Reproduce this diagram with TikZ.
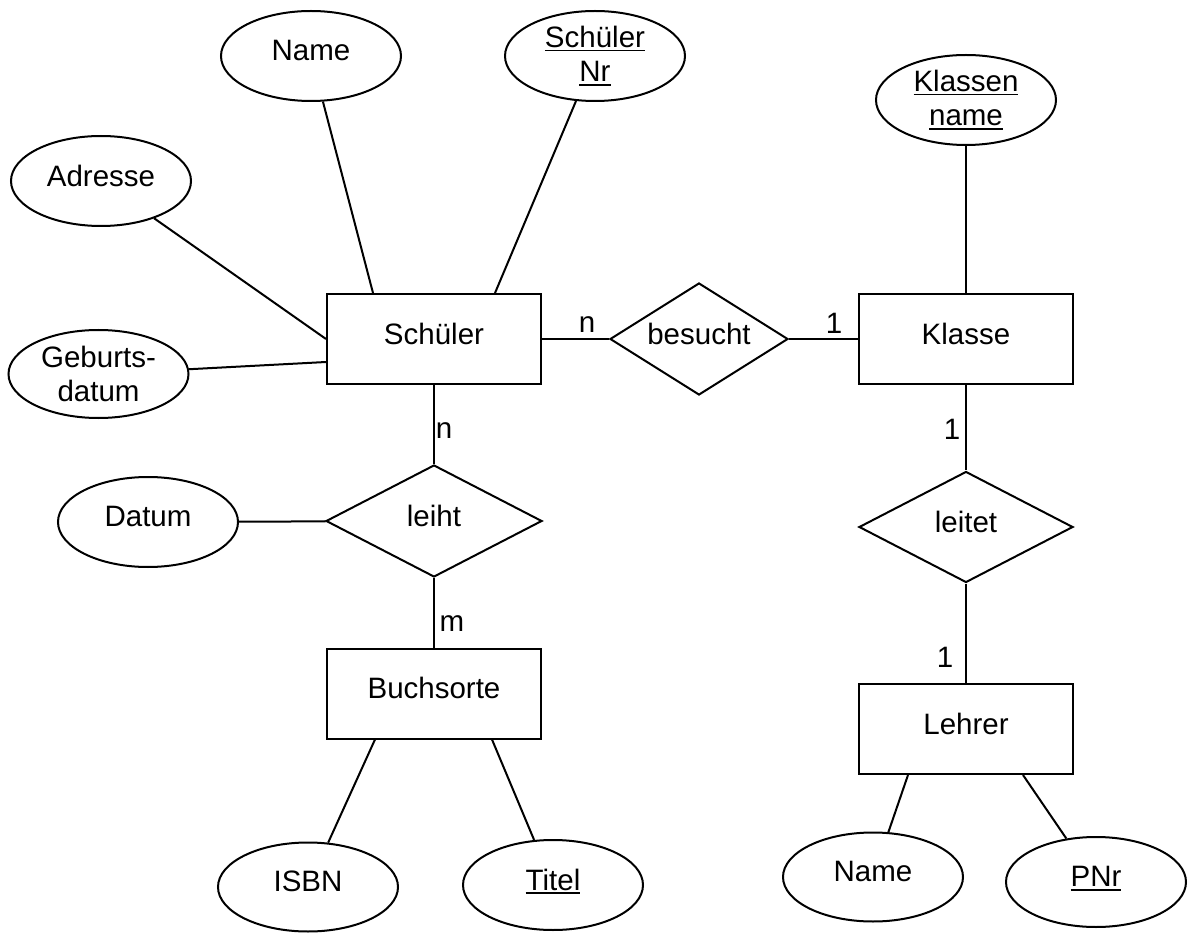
\documentclass[tikz,border=0pt]{standalone}
\usepackage{fontspec}
\setmainfont{Liberation Sans}
\usetikzlibrary{shapes.geometric}
\newsavebox\ulbox
\newcommand\ulin[1]{\sbox\ulbox{#1}\rlap{\rule[-4pt]{\wd\ulbox}{1.8pt}}\usebox\ulbox}
\begin{document}
\begin{tikzpicture}[x=1pt,y=-1pt,
  every node/.style={font=\fontsize{29.5}{34.5}\selectfont, inner sep=0pt},
  shapebase/.style={draw, line width=2pt},
  entity/.style={shapebase, rectangle, minimum width=214pt, minimum height=90pt, text depth=11pt},
  attr/.style={shapebase, ellipse, minimum width=180pt, minimum height=90pt},
  attrone/.style={attr, text depth=11pt},
  rel/.style={shapebase, diamond, aspect=1.8, text depth=11pt},
  card/.style={anchor=base},
  conn/.style={line width=2pt}]
\fill[white] (0,0) rectangle (1192,933);
\useasboundingbox (0,0) rectangle (1192,933);

% entities
\node[entity] (schueler) at (434,339) {Schüler};
\node[entity] (klasse) at (966,339) {Klasse};
\node[entity] (buch) at (434,693.5) {Buchsorte};
\node[entity] (lehrer) at (966,729) {Lehrer};

% relationships
\node[rel, minimum width=178pt, minimum height=112pt] (besucht) at (699,339) {besucht};
\node[rel, minimum width=216pt, minimum height=112pt] (leiht) at (434,521) {leiht};
\node[rel, minimum width=214pt, minimum height=111pt] (leitet) at (966,527) {leitet};

% attributes
\node[attrone] (name) at (311,56) {Name};
\node[attr, align=center] (snr) at (595,56) {\ulin{Schüler}\\\ulin{Nr}};
\node[attrone] (adresse) at (101,181) {Adresse};
\node[attr, align=center, minimum height=88pt] (geb) at (98.5,374) {Geburts-\\datum};
\node[attr, align=center] (kname) at (966,100) {\ulin{Klassen}\\\ulin{name}};
\node[attrone] (datum) at (148,522) {Datum};
\node[attrone, minimum height=89pt] (isbn) at (308,887) {ISBN};
\node[attrone] (titel) at (553,885) {\ulin{Titel}};
\node[attrone, minimum height=89pt] (lname) at (873,877) {Name};
\node[attrone] (pnr) at (1096,882) {\ulin{PNr}};

% connectors
\draw[conn] (schueler) -- (besucht);
\draw[conn] (besucht) -- (klasse);
\draw[conn] (schueler) -- (leiht);
\draw[conn] (leiht) -- (buch);
\draw[conn] (klasse) -- (leitet);
\draw[conn] (leitet) -- (lehrer);
\draw[conn] (kname) -- (klasse);
\draw[conn] (datum) -- (leiht);
\draw[conn] ([xshift=-61pt]schueler.north) -- (name);
\draw[conn] ([xshift=61pt]schueler.north) -- (snr);
\draw[conn] (schueler.west) -- (adresse);
\draw[conn] ([yshift=-23pt]schueler.west) -- (geb);
\draw[conn] ([xshift=-59pt]buch.south) -- (isbn);
\draw[conn] ([xshift=58pt]buch.south) -- (titel);
\draw[conn] ([xshift=-58pt]lehrer.south) -- (lname);
\draw[conn] ([xshift=57pt]lehrer.south) -- (pnr);

% cardinalities
\node[card] (c1) at (587,333) {n};
\node[card] (c2) at (834,334) {1};
\node[card] (c3) at (952,439) {1};
\node[card] (c4) at (444,438) {n};
\node[card] (c5) at (452,631) {m};
\node[card] (c6) at (945,667) {1};
\end{tikzpicture}
\end{document}
